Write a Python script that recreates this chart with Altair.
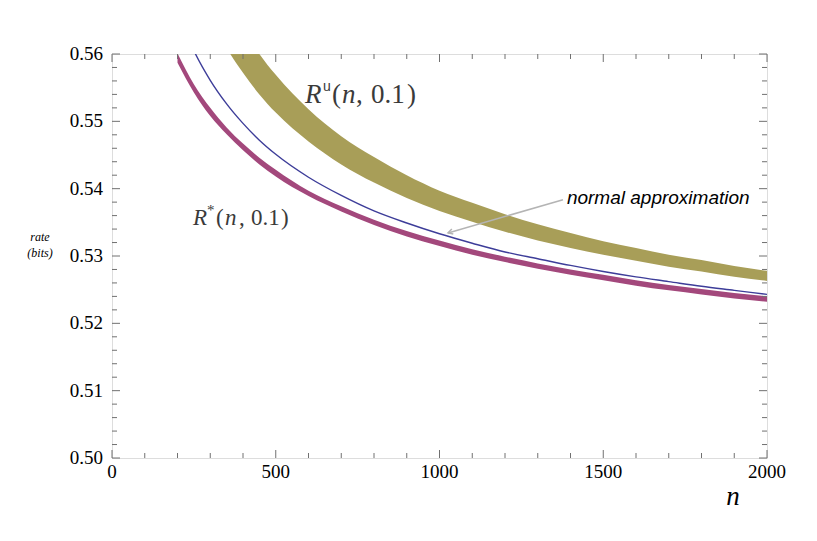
import altair as alt
import pandas as pd

# ---- data ----
n_values = [200, 250, 300, 350, 400, 450, 500, 600, 700, 800, 900, 1000,
            1100, 1200, 1300, 1400, 1500, 1600, 1700, 1800, 1900, 2000]
normal_approx = [0.5664, 0.5605, 0.5561, 0.5526, 0.5497, 0.5472, 0.5451, 0.5417,
                 0.5390, 0.5367, 0.5349, 0.5333, 0.5319, 0.5306, 0.5296, 0.5286,
                 0.5277, 0.5269, 0.5262, 0.5255, 0.5249, 0.5243]
rstar_upper = [0.5601, 0.5555, 0.5520, 0.5491, 0.5467, 0.5446, 0.5428, 0.5397,
               0.5374, 0.5354, 0.5337, 0.5323, 0.5310, 0.5299, 0.5289, 0.5280,
               0.5272, 0.5264, 0.5257, 0.5251, 0.5245, 0.5240]
rstar_lower = [0.5587, 0.5543, 0.5508, 0.5481, 0.5457, 0.5436, 0.5418, 0.5389,
               0.5366, 0.5346, 0.5329, 0.5315, 0.5302, 0.5291, 0.5281, 0.5272,
               0.5264, 0.5256, 0.5249, 0.5243, 0.5237, 0.5232]
ru_upper = [0.5920, 0.5817, 0.5741, 0.5683, 0.5638, 0.5600, 0.5569, 0.5518,
            0.5478, 0.5447, 0.5420, 0.5397, 0.5379, 0.5362, 0.5347, 0.5334,
            0.5322, 0.5312, 0.5302, 0.5294, 0.5285, 0.5278]
ru_lower = [0.5790, 0.5713, 0.5655, 0.5609, 0.5572, 0.5540, 0.5513, 0.5470,
            0.5436, 0.5409, 0.5386, 0.5367, 0.5351, 0.5336, 0.5323, 0.5312,
            0.5302, 0.5293, 0.5284, 0.5277, 0.5269, 0.5263]

x_major = [0, 500, 1000, 1500, 2000]
x_minor = [100, 200, 300, 400, 600, 700, 800, 900, 1100, 1200, 1300, 1400,
           1600, 1700, 1800, 1900]
y_major = [0.50, 0.51, 0.52, 0.53, 0.54, 0.55, 0.56]
y_minor = [0.502, 0.504, 0.506, 0.508, 0.512, 0.514, 0.516, 0.518,
           0.522, 0.524, 0.526, 0.528, 0.532, 0.534, 0.536, 0.538,
           0.542, 0.544, 0.546, 0.548, 0.552, 0.554, 0.556, 0.558]

# annotation anchors (data coordinates)
ru_label_at = (589, 0.55275)
rs_label_at = (247, 0.53462)
na_label_at = (1389, 0.53774)
arrow_from = (1377, 0.53834)
arrow_to = (1026, 0.53343)

W, H = 655, 404
SERIF = "Liberation Serif"
SANS = "Liberation Sans"

df = pd.DataFrame({
    "n": n_values, "approx": normal_approx,
    "rs_hi": rstar_upper, "rs_lo": rstar_lower,
    "ru_hi": ru_upper, "ru_lo": ru_lower,
})

xs = alt.Scale(domain=[0, 2000], nice=False, zero=False)
ys = alt.Scale(domain=[0.5, 0.56], nice=False, zero=False)


def X(field):
    return alt.X(field, type="quantitative", scale=xs, axis=None)


def Y(field):
    return alt.Y(field, type="quantitative", scale=ys, axis=None)


base = alt.Chart(df)

ru_band = base.mark_area(color="#a89e58", clip=True, interpolate="monotone").encode(
    x=X("n"), y=Y("ru_lo"), y2="ru_hi")
rs_band = base.mark_area(color="#a3487c", clip=True, interpolate="monotone").encode(
    x=X("n"), y=Y("rs_lo"), y2="rs_hi")
approx_line = base.mark_line(color="#3d3d99", strokeWidth=1.4, clip=True,
                             interpolate="monotone").encode(x=X("n"), y=Y("approx"))

TICK = "#707070"


def xticks(vals, y0, y1):
    return alt.Chart(pd.DataFrame({"t": vals})).mark_rule(color=TICK, strokeWidth=1).encode(
        x=X("t"), y=alt.value(y0), y2=alt.value(y1))


def yticks(vals, x0, x1):
    return alt.Chart(pd.DataFrame({"v": vals})).mark_rule(color=TICK, strokeWidth=1).encode(
        y=Y("v"), x=alt.value(x0), x2=alt.value(x1))


ticks = [
    xticks(x_major, H, H - 8), xticks(x_minor, H, H - 5),
    xticks(x_major, 0, 8), xticks(x_minor, 0, 5),
    yticks(y_major, 0, 8), yticks(y_minor, 0, 5),
    yticks(y_major, W, W - 8), yticks(y_minor, W, W - 5),
]

# tick labels as text marks (serif, like the reference)
x_labels = alt.Chart(pd.DataFrame({"t": x_major})).mark_text(
    font=SERIF, fontSize=19, color="black", baseline="top", align="center", dy=5
).encode(x=X("t"), y=alt.value(H), text=alt.Text("t:Q", format="d"))
y_labels = alt.Chart(pd.DataFrame({"v": y_major})).mark_text(
    font=SERIF, fontSize=19, color="black", baseline="middle", align="right", dx=-9
).encode(y=Y("v"), x=alt.value(0), text=alt.Text("v:Q", format=".2f"))

# axis titles
x_title = alt.Chart(pd.DataFrame({"s": ["n"]})).mark_text(
    font=SERIF, fontSize=27, fontStyle="italic", color="black", align="center",
    baseline="alphabetic").encode(x=alt.value(621), y=alt.value(H + 47), text="s:N")
y_title = alt.Chart(pd.DataFrame({"s": [["rate", "(bits)"]]})).mark_text(
    font=SERIF, fontSize=12, fontStyle="italic", color="black", align="center",
    baseline="alphabetic", lineHeight=16).encode(x=alt.value(-72), y=alt.value(187), text="s")


def piece(text, at, dx, dy, font, size, style="normal", color="#3a3a3a"):
    d = pd.DataFrame({"px": [at[0]], "py": [at[1]]})
    return alt.Chart(d).mark_text(
        text=text, font=font, fontSize=size, fontStyle=style, color=color,
        align="left", baseline="alphabetic", dx=dx, dy=dy,
    ).encode(x=X("px"), y=Y("py"))


labels = [
    # R^u(n, 0.1)
    piece("R", ru_label_at, 0, 0, SERIF, 27, "italic"),
    piece("u", ru_label_at, 18, -12, SANS, 14),
    piece("(", ru_label_at, 27, 0, SERIF, 27),
    piece("n", ru_label_at, 37, 0, SERIF, 27, "italic"),
    piece(",", ru_label_at, 51, 0, SERIF, 27),
    piece("0.1", ru_label_at, 66, 0, SERIF, 27),
    piece(")", ru_label_at, 102, 0, SERIF, 27),
    # R*(n, 0.1)
    piece("R", rs_label_at, 0, 0, SERIF, 23, "italic"),
    piece("*", rs_label_at, 14, -10, SERIF, 15),
    piece("(", rs_label_at, 23, 0, SERIF, 23),
    piece("n", rs_label_at, 32, 0, SERIF, 23, "italic"),
    piece(",", rs_label_at, 46, 0, SERIF, 23),
    piece("0.1", rs_label_at, 58, 0, SERIF, 23),
    piece(")", rs_label_at, 88, 0, SERIF, 23),
    # normal approximation
    piece("normal approximation", na_label_at, 0, 0, SANS, 19, "italic", "black"),
]

arrow_df = pd.DataFrame({"x0": [arrow_from[0]], "y0": [arrow_from[1]],
                         "x1": [arrow_to[0]], "y1": [arrow_to[1]]})
arrow_line = alt.Chart(arrow_df).mark_rule(color="#b4b4b4", strokeWidth=1.5).encode(
    x=X("x0"), y=Y("y0"), x2="x1", y2="y1")
arrow_head = alt.Chart(arrow_df).mark_point(
    shape="M -1 -0.55 L 0 0 L -1 0.55", filled=False, stroke="#b4b4b4",
    strokeWidth=1.5, size=90, angle=164, opacity=1,
).encode(x=X("x1"), y=Y("y1"))

chart = alt.layer(
    ru_band, rs_band, approx_line, *ticks, x_labels, y_labels, x_title, y_title,
    arrow_line, arrow_head, *labels
).properties(
    width=W, height=H,
    autosize=alt.AutoSizeParams(type="none"),
    padding={"left": 104, "top": 46, "right": 30, "bottom": 60},
).configure_view(
    stroke="#8a8a8a", strokeWidth=1.3
).configure(background="white")

chart.save("out.html", embed_options={"renderer": "svg", "actions": False})
